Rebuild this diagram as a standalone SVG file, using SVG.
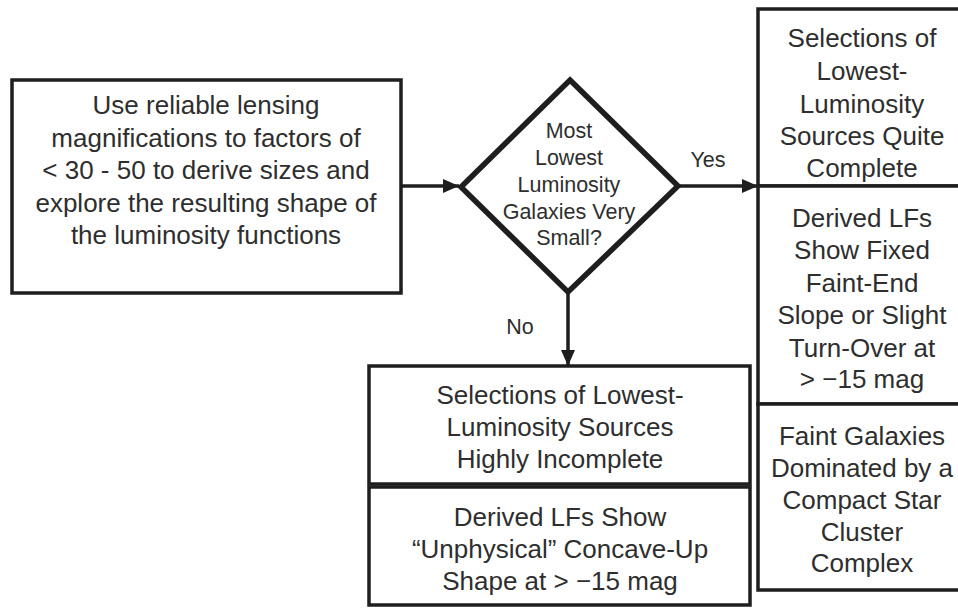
<svg xmlns="http://www.w3.org/2000/svg" width="958" height="608" viewBox="0 0 958 608">
<style>
.box{fill:#fff;stroke:#1e1e1e;stroke-width:3.5}
.dia{fill:#fff;stroke:#1e1e1e;stroke-width:5.5;stroke-linejoin:miter}
.t{font-family:"Liberation Sans",Arial,sans-serif;font-size:26px;fill:#2e2e2e;text-anchor:middle}
.s{font-size:21.5px}
.c{stroke:#1e1e1e;stroke-width:3.5;fill:none}
</style>
<defs>
<marker id="ah" viewBox="0 0 16 14" refX="16" refY="7" markerWidth="16" markerHeight="14" markerUnits="userSpaceOnUse" orient="auto">
<path d="M0,0 L16,7 L0,14 Z" fill="#1e1e1e"/>
</marker>
</defs>
<rect width="958" height="608" fill="#fff"/>
<g id="connectors">
<line class="c" x1="401" y1="186" x2="459" y2="186" marker-end="url(#ah)"/>
<line class="c" x1="678" y1="186" x2="758" y2="186" marker-end="url(#ah)"/>
<line class="c" x1="568" y1="292" x2="568" y2="366" marker-end="url(#ah)"/>
<text class="t s" x="708" y="167">Yes</text>
<text class="t s" x="520" y="334">No</text>
</g>
<g id="start">
<rect class="box" x="12" y="80" width="389" height="213"/>
<text class="t" x="206" y="114">Use reliable lensing</text>
<text class="t" x="206" y="147">magnifications to factors of</text>
<text class="t" x="206" y="179">&lt; 30 - 50 to derive sizes and</text>
<text class="t" x="206" y="212">explore the resulting shape of</text>
<text class="t" x="206" y="244">the luminosity functions</text>
</g>
<g id="decision">
<polygon class="dia" points="570,80 678,186 568,292 461,187"/>
<text class="t s" x="569" y="138">Most</text>
<text class="t s" x="569" y="165">Lowest</text>
<text class="t s" x="569" y="192">Luminosity</text>
<text class="t s" x="569" y="219">Galaxies Very</text>
<text class="t s" x="569" y="245">Small?</text>
</g>
<g id="yes1">
<rect class="box" x="758" y="9" width="215" height="177"/>
<text class="t" x="862" y="47">Selections of</text>
<text class="t" x="862" y="80">Lowest-</text>
<text class="t" x="862" y="113">Luminosity</text>
<text class="t" x="862" y="145">Sources Quite</text>
<text class="t" x="862" y="177">Complete</text>
</g>
<g id="yes2">
<rect class="box" x="758" y="186" width="215" height="218"/>
<text class="t" x="862" y="227">Derived LFs</text>
<text class="t" x="862" y="259">Show Fixed</text>
<text class="t" x="862" y="292">Faint-End</text>
<text class="t" x="862" y="324">Slope or Slight</text>
<text class="t" x="862" y="357">Turn-Over at</text>
<text class="t" x="862" y="388">&gt; −15 mag</text>
</g>
<g id="yes3">
<rect class="box" x="758" y="404" width="215" height="186"/>
<text class="t" x="862" y="445">Faint Galaxies</text>
<text class="t" x="862" y="477">Dominated by a</text>
<text class="t" x="862" y="509">Compact Star</text>
<text class="t" x="862" y="541">Cluster</text>
<text class="t" x="862" y="572">Complex</text>
</g>
<g id="no1">
<rect class="box" x="369" y="366" width="381" height="118"/>
<text class="t" x="560" y="404">Selections of Lowest-</text>
<text class="t" x="560" y="436">Luminosity Sources</text>
<text class="t" x="560" y="468">Highly Incomplete</text>
</g>
<g id="no2">
<rect class="box" x="369" y="487" width="381" height="118"/>
<text class="t" x="560" y="526">Derived LFs Show</text>
<text class="t" x="560" y="558">“Unphysical” Concave-Up</text>
<text class="t" x="560" y="590">Shape at &gt; −15 mag</text>
</g>
</svg>
